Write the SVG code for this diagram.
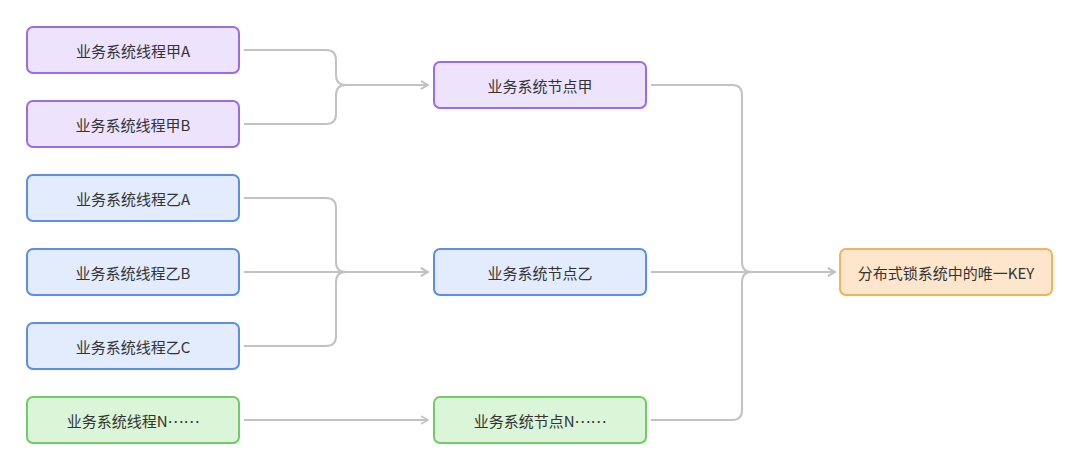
<svg xmlns="http://www.w3.org/2000/svg" width="1080" height="470" viewBox="0 0 1080 470">
<style>
.n rect{stroke-width:2}
.p rect{fill:#ede3fd;stroke:#9a6ce6}
.b rect{fill:#e2ecfd;stroke:#5b8ded}
.g rect{fill:#daf5d7;stroke:#70cc64}
.o rect{fill:#fde6cc;stroke:#f4b25c}
.n text{font-family:"Noto Sans CJK SC","Noto Sans",sans-serif;font-size:15px;fill:#333;text-anchor:middle;dominant-baseline:central}
#edges path{fill:none;stroke:#c2c2c2;stroke-width:2;marker-end:url(#arr)}
</style>
<defs>
<marker id="arr" viewBox="0 0 10 10" refX="9" refY="5" markerWidth="10" markerHeight="10" markerUnits="userSpaceOnUse" orient="auto">
<path d="M2,1 L9,5 L2,9" fill="none" stroke="#c2c2c2" stroke-width="1.6"/>
</marker>
</defs>
<rect width="1080" height="470" fill="#fff"/>
<g id="edges">
<path d="M244,50 H326 Q336,50 336,60 V75 Q336,85 346,85 H428"/>
<path d="M244,124 H326 Q336,124 336,114 V95 Q336,85 346,85 H428"/>
<path d="M244,198 H326 Q336,198 336,208 V262 Q336,272 346,272 H428"/>
<path d="M244,272 H428"/>
<path d="M244,346 H326 Q336,346 336,336 V282 Q336,272 346,272 H428"/>
<path d="M244,420 H428"/>
<path d="M651,85 H732 Q742,85 742,95 V262 Q742,272 752,272 H835"/>
<path d="M651,272 H835"/>
<path d="M651,420 H732 Q742,420 742,410 V282 Q742,272 752,272 H835"/>
</g>
<g id="t1" class="n p"><rect x="27" y="27" width="212" height="46" rx="6"/><text x="133" y="50">业务系统线程甲A</text></g>
<g id="t2" class="n p"><rect x="27" y="101" width="212" height="46" rx="6"/><text x="133" y="124">业务系统线程甲B</text></g>
<g id="t3" class="n b"><rect x="27" y="175" width="212" height="46" rx="6"/><text x="133" y="198">业务系统线程乙A</text></g>
<g id="t4" class="n b"><rect x="27" y="249" width="212" height="46" rx="6"/><text x="133" y="272">业务系统线程乙B</text></g>
<g id="t5" class="n b"><rect x="27" y="323" width="212" height="46" rx="6"/><text x="133" y="346">业务系统线程乙C</text></g>
<g id="t6" class="n g"><rect x="27" y="397" width="212" height="46" rx="6"/><text x="133" y="420">业务系统线程N<tspan dy="-4">……</tspan></text></g>
<g id="s1" class="n p"><rect x="434" y="62" width="212" height="46" rx="6"/><text x="540" y="85">业务系统节点甲</text></g>
<g id="s2" class="n b"><rect x="434" y="249" width="212" height="46" rx="6"/><text x="540" y="272">业务系统节点乙</text></g>
<g id="s3" class="n g"><rect x="434" y="397" width="212" height="46" rx="6"/><text x="540" y="420">业务系统节点N<tspan dy="-4">……</tspan></text></g>
<g id="key" class="n o"><rect x="840" y="249" width="212" height="46" rx="6"/><text x="946" y="272">分布式锁系统中的唯一KEY</text></g>
</svg>
